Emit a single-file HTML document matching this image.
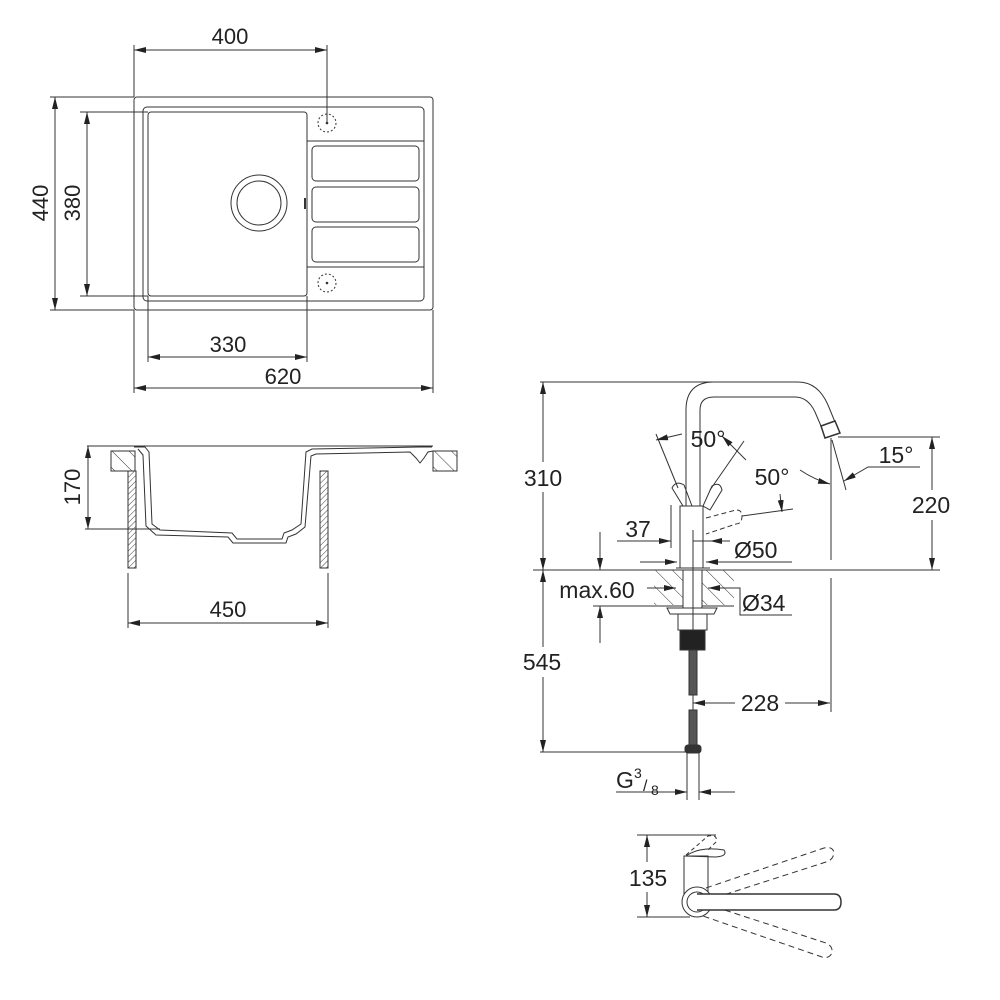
<!DOCTYPE html>
<html><head><meta charset="utf-8"><style>
html,body{margin:0;padding:0;background:#fff;width:1000px;height:1000px;overflow:hidden}
svg{display:block}
text{font-family:"Liberation Sans",sans-serif;fill:#222}
</style></head><body>
<svg width="1000" height="1000" viewBox="0 0 1000 1000" xmlns="http://www.w3.org/2000/svg">
<defs>
<marker id="a" viewBox="0 0 12 6" refX="12" refY="3" markerWidth="12" markerHeight="6" orient="auto-start-reverse" markerUnits="userSpaceOnUse"><path d="M0,0L12,3L0,6z" fill="#222"/></marker>
<pattern id="h" patternUnits="userSpaceOnUse" width="4" height="4" patternTransform="rotate(45)"><line x1="0" y1="0" x2="0" y2="4" stroke="#444" stroke-width="1"/></pattern>
<pattern id="h2" patternUnits="userSpaceOnUse" width="12" height="12" patternTransform="rotate(-45)"><line x1="0" y1="0" x2="0" y2="12" stroke="#333" stroke-width="1"/></pattern>
</defs>
<g fill="none" stroke="#333" stroke-width="1">
<!-- TOP VIEW -->
<rect x="134" y="97" width="299" height="213" rx="3"/>
<rect x="143" y="107" width="281" height="194" rx="4"/>
<rect x="148" y="112" width="159" height="184" rx="3"/>
<circle cx="259" cy="203" r="28"/>
<circle cx="259" cy="203" r="22"/>
<line x1="305" y1="198" x2="305" y2="209" stroke-width="2"/>
<line x1="307" y1="141" x2="424" y2="141"/>
<line x1="307" y1="267" x2="424" y2="267"/>
<rect x="312" y="146" width="107" height="35" rx="4"/>
<rect x="312" y="187" width="107" height="35" rx="4"/>
<rect x="312" y="227" width="107" height="35" rx="4"/>
<circle cx="327" cy="123" r="9" stroke-dasharray="2,2"/>
<circle cx="327" cy="283" r="9" stroke-dasharray="2,2"/>
<circle cx="327" cy="123" r="0.8" fill="#333"/>
<circle cx="327" cy="283" r="0.8" fill="#333"/>
<line x1="134" y1="45" x2="134" y2="97"/>
<line x1="327" y1="45" x2="327" y2="123"/>
<line x1="134" y1="50" x2="327" y2="50" marker-start="url(#a)" marker-end="url(#a)"/>
<line x1="50" y1="97" x2="134" y2="97"/>
<line x1="50" y1="310" x2="134" y2="310"/>
<line x1="55" y1="97" x2="55" y2="310" marker-start="url(#a)" marker-end="url(#a)"/>
<line x1="80" y1="112" x2="148" y2="112"/>
<line x1="80" y1="296" x2="148" y2="296"/>
<line x1="87" y1="112" x2="87" y2="296" marker-start="url(#a)" marker-end="url(#a)"/>
<line x1="148" y1="296" x2="148" y2="362"/>
<line x1="307" y1="296" x2="307" y2="362"/>
<line x1="148" y1="357" x2="307" y2="357" marker-start="url(#a)" marker-end="url(#a)"/>
<line x1="134" y1="310" x2="134" y2="393"/>
<line x1="433" y1="310" x2="433" y2="393"/>
<line x1="134" y1="388" x2="433" y2="388" marker-start="url(#a)" marker-end="url(#a)"/>
<!-- SECTION -->
<line x1="87" y1="446" x2="433" y2="446"/>
<rect x="111" y="451" width="24" height="20" fill="url(#h2)"/>
<rect x="433" y="451" width="24" height="20" fill="url(#h2)"/>
<rect x="128" y="471" width="8" height="97" fill="url(#h)"/>
<rect x="320" y="471" width="8" height="97" fill="url(#h)"/>
<path d="M134,447 L145,447 L149,452 L152,524 L160,530 L232,533 L237,539 L282,539 L284,533 L292,530 L301,524 L306,452 L312,449 L420,447 L432,447"/>
<path d="M138,449 L143,455 L146,526 L156,535 L228,537 L233,543 L286,543 L288,537 L296,534 L305,527 L311,456 L316,454 L410,452 L416,458 L420,463 L424,458 L428,452 L433,451"/>
<line x1="85" y1="529" x2="160" y2="529"/>
<line x1="88" y1="446" x2="88" y2="529" marker-start="url(#a)" marker-end="url(#a)"/>
<line x1="128" y1="573" x2="128" y2="628"/>
<line x1="328" y1="573" x2="328" y2="628"/>
<line x1="128" y1="623" x2="328" y2="623" marker-start="url(#a)" marker-end="url(#a)"/>
<!-- FAUCET -->
<line x1="540" y1="382" x2="712" y2="382"/>
<line x1="543" y1="382" x2="543" y2="570" marker-start="url(#a)" marker-end="url(#a)"/>
<line x1="533" y1="570" x2="940" y2="570"/>
<line x1="543" y1="570" x2="543" y2="752" marker-start="url(#a)" marker-end="url(#a)"/>
<line x1="540" y1="752" x2="700" y2="752"/>
<path d="M686,506 L686,410 Q686,382 714,382 L798,382 Q818,382 828,405 L835,422"/>
<path d="M700,506 L700,410 Q700,397 714,397 L795,397 Q808,397 815,412 L821,426"/>
<path d="M821,426 L835,421 L840,433 L825,438 Z" stroke-width="1.5"/>
<line x1="838" y1="437" x2="940" y2="437"/>
<line x1="932" y1="437" x2="932" y2="570" marker-start="url(#a)" marker-end="url(#a)"/>
<line x1="831" y1="438" x2="831" y2="560"/>
<line x1="831" y1="578" x2="831" y2="712"/>
<line x1="832" y1="440" x2="846" y2="490"/>
<polyline points="844,481 868,467 920,467" marker-start="url(#a)"/>
<path d="M800,470 Q815,480 830,484" marker-end="url(#a)"/>
<line x1="656" y1="434" x2="678" y2="488"/>
<line x1="656" y1="440" x2="682" y2="434" marker-start="url(#a)"/>
<line x1="722" y1="436" x2="746" y2="460" marker-start="url(#a)"/>
<line x1="744" y1="441" x2="710" y2="490"/>
<path d="M672,488 Q676,480 684,485 L692,506 L683,506 Z"/>
<path d="M712,486 Q720,481 722,490 L710,510 L703,506 Z"/>
<path d="M706,518 L736,510 Q742,510 742,516 Q742,524 736,524 L706,534" stroke-dasharray="5,3"/>
<line x1="742" y1="516" x2="793" y2="509"/>
<line x1="780" y1="494" x2="782" y2="512" marker-end="url(#a)"/>
<rect x="680" y="506" width="23" height="62" fill="#fff"/>
<line x1="693" y1="530" x2="693" y2="750"/>
<line x1="671" y1="505" x2="671" y2="548"/>
<line x1="617" y1="541" x2="671" y2="541" marker-end="url(#a)"/>
<line x1="693" y1="541" x2="710" y2="541"/>
<line x1="710" y1="541" x2="730" y2="541" marker-start="url(#a)"/>
<line x1="640" y1="562" x2="677" y2="562" marker-end="url(#a)"/>
<line x1="706" y1="562" x2="792" y2="562" marker-start="url(#a)"/>
<rect x="654" y="570" width="29" height="35" fill="url(#h2)" stroke="none"/>
<rect x="702" y="570" width="32" height="35" fill="url(#h2)" stroke="none"/>
<line x1="593" y1="606" x2="734" y2="606"/>
<line x1="676" y1="568" x2="710" y2="568"/>
<rect x="683" y="570" width="19" height="38" fill="#fff"/>
<line x1="693" y1="570" x2="693" y2="608"/>
<line x1="647" y1="588" x2="676" y2="588" marker-end="url(#a)"/>
<line x1="708" y1="588" x2="738" y2="588" marker-start="url(#a)"/>
<polyline points="738,588 740,588 740,615 792,615"/>
<line x1="600" y1="532" x2="600" y2="570" marker-end="url(#a)"/>
<line x1="600" y1="643" x2="600" y2="606" marker-end="url(#a)"/>
<path d="M667,608 L717,608 L714,614 L670,614 Z"/>
<rect x="678" y="614" width="29" height="16"/>
<rect x="680" y="630" width="25" height="20" fill="#222"/>
<rect x="689" y="650" width="8" height="45" fill="#555"/>
<rect x="689" y="710" width="8" height="35" fill="#555"/>
<rect x="685" y="745" width="16" height="8" rx="3" fill="#333"/>
<line x1="693" y1="703" x2="830" y2="703" marker-start="url(#a)" marker-end="url(#a)"/>
<line x1="687" y1="753" x2="687" y2="800"/>
<line x1="699" y1="753" x2="699" y2="800"/>
<line x1="616" y1="792" x2="687" y2="792" marker-end="url(#a)"/>
<line x1="699" y1="792" x2="735" y2="792" marker-start="url(#a)"/>
<!-- HANDLE TOP VIEW -->
<line x1="637" y1="835" x2="716" y2="835"/>
<line x1="637" y1="917" x2="690" y2="917"/>
<line x1="647" y1="835" x2="647" y2="917" marker-start="url(#a)" marker-end="url(#a)"/>
<rect x="684" y="856" width="24" height="46" fill="#fff"/>
<path d="M686,856 Q700,846 724,850 Q728,856 716,857 Z"/>
<path d="M686,855 L708,836 Q718,834 716,842 L708,850" stroke-dasharray="4,3"/>
<path d="M706,888 L824,848 Q833,846 834,853 Q833,860 826,862 L708,900" stroke-dasharray="6,4"/>
<path d="M706,904 L826,943 Q833,946 832,953 Q829,959 822,957 L700,915" stroke-dasharray="6,4"/>
<circle cx="697" cy="902" r="15" fill="#fff"/>
<circle cx="697" cy="902" r="10"/>
<path d="M697,894 L834,894 Q841,894 841,902 Q841,910 834,910 L697,910" fill="#fff" stroke-width="1.5"/>
</g>
<!-- text backgrounds -->
<g fill="#fff">
<rect x="522" y="462" width="44" height="30"/>
<rect x="520" y="647" width="44" height="30"/>
<rect x="908" y="490" width="46" height="30"/>
<rect x="628" y="862" width="40" height="30"/>
<rect x="735" y="690" width="50" height="26"/>
</g>
<g font-size="22">
<text x="230" y="44" text-anchor="middle">400</text>
<text x="228" y="352" text-anchor="middle">330</text>
<text x="283" y="384" text-anchor="middle">620</text>
<text x="228" y="617" text-anchor="middle">450</text>
<text transform="translate(48,203) rotate(-90)" text-anchor="middle">440</text>
<text transform="translate(80,203) rotate(-90)" text-anchor="middle">380</text>
<text transform="translate(80,487) rotate(-90)" text-anchor="middle">170</text>
</g>
<g font-size="23">
<text x="543" y="486" text-anchor="middle">310</text>
<text x="542" y="670" text-anchor="middle">545</text>
<text x="931" y="513" text-anchor="middle">220</text>
<text x="896" y="463" text-anchor="middle">15°</text>
<text x="708" y="447" text-anchor="middle">50°</text>
<text x="772" y="485" text-anchor="middle">50°</text>
<text x="638" y="537" text-anchor="middle">37</text>
<text x="734" y="558">Ø50</text>
<text x="597" y="598" text-anchor="middle">max.60</text>
<text x="742" y="611">Ø34</text>
<text x="760" y="711" text-anchor="middle">228</text>
<text x="616" y="788">G</text>
<text x="634" y="778" font-size="14">3</text>
<text x="643" y="791" font-size="16">/</text>
<text x="651" y="795" font-size="14">8</text>
<text x="648" y="886" text-anchor="middle">135</text>
</g>
</svg>
</body></html>
